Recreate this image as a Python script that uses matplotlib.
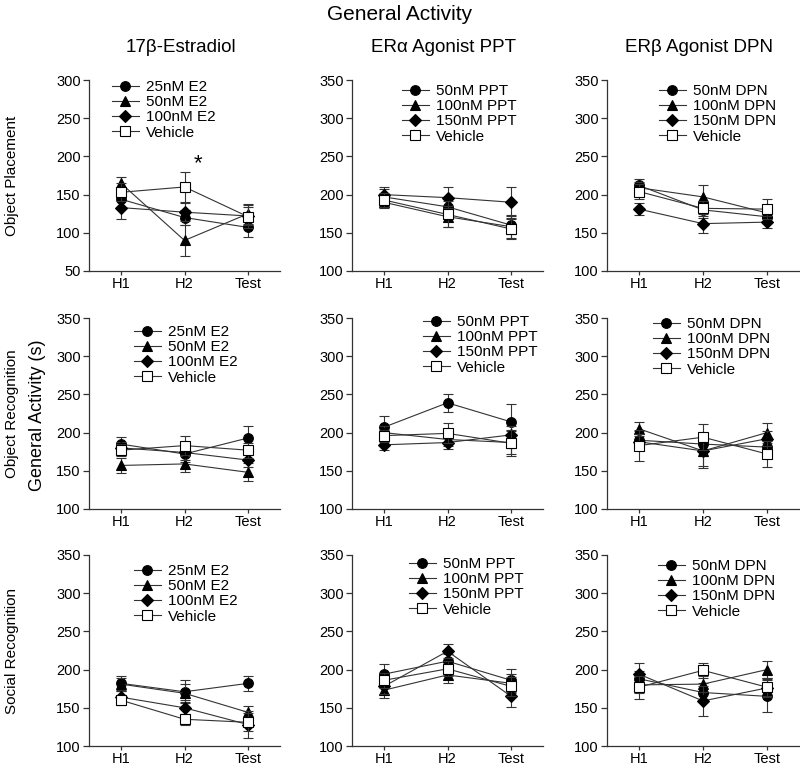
import matplotlib
matplotlib.use("Agg")
import matplotlib.pyplot as plt
import numpy as np

plt.rcParams['font.family'] = ['Liberation Sans', 'DejaVu Sans']

timepoints = ['H1', 'H2', 'Test']
col_titles = ['17\u03b2-Estradiol', 'ER\u03b1 Agonist PPT', 'ER\u03b2 Agonist DPN']
row_titles = ['Object Placement', 'Object Recognition', 'Social Recognition']
e2_labels = ['25nM E2', '50nM E2', '100nM E2', 'Vehicle']
ppt_labels = ['50nM PPT', '100nM PPT', '150nM PPT', 'Vehicle']
dpn_labels = ['50nM DPN', '100nM DPN', '150nM DPN', 'Vehicle']

# series order: dose1 (circle), dose2 (triangle), dose3 (diamond), vehicle (square)
op_e2_mean = [[144, 120, 107], [165, 90, 125], [133, 127, 122], [153, 160, 121]]
op_e2_err = [[10, 10, 12], [8, 20, 13], [15, 12, 12], [12, 20, 15]]
op_ppt_mean = [[197, 184, 160], [190, 171, 158], [200, 196, 190], [193, 174, 155]]
op_ppt_err = [[10, 12, 12], [8, 14, 15], [10, 14, 20], [9, 17, 13]]
op_dpn_mean = [[212, 180, 171], [209, 197, 176], [181, 162, 164], [204, 182, 181]]
op_dpn_err = [[8, 10, 8], [8, 15, 10], [8, 12, 8], [10, 10, 13]]

or_e2_mean = [[185, 172, 193], [157, 159, 148], [180, 174, 164], [177, 183, 177]]
or_e2_err = [[9, 10, 15], [10, 10, 12], [8, 10, 9], [8, 12, 10]]
or_ppt_mean = [[207, 239, 214], [200, 191, 187], [184, 187, 197], [196, 199, 186]]
or_ppt_err = [[15, 12, 23], [8, 8, 15], [7, 8, 12], [8, 13, 17]]
or_dpn_mean = [[190, 185, 181], [205, 176, 200], [188, 176, 192], [183, 194, 172]]
or_dpn_err = [[12, 15, 12], [9, 20, 13], [10, 22, 10], [20, 17, 17]]

sr_e2_mean = [[182, 171, 182], [181, 169, 144], [164, 150, 128], [160, 135, 131]]
sr_e2_err = [[10, 15, 10], [8, 12, 9], [8, 10, 18], [6, 7, 12]]
sr_ppt_mean = [[194, 211, 186], [173, 193, 182], [178, 224, 165], [186, 201, 178]]
sr_ppt_err = [[13, 10, 15], [10, 11, 12], [10, 9, 14], [10, 10, 12]]
sr_dpn_mean = [[188, 170, 165], [180, 181, 200], [194, 159, 176], [177, 199, 177]]
sr_dpn_err = [[10, 12, 21], [10, 10, 11], [15, 20, 12], [15, 10, 12]]

means = [[op_e2_mean, op_ppt_mean, op_dpn_mean],
         [or_e2_mean, or_ppt_mean, or_dpn_mean],
         [sr_e2_mean, sr_ppt_mean, sr_dpn_mean]]
errs = [[op_e2_err, op_ppt_err, op_dpn_err],
        [or_e2_err, or_ppt_err, or_dpn_err],
        [sr_e2_err, sr_ppt_err, sr_dpn_err]]
labels = [e2_labels, ppt_labels, dpn_labels]

W, H = 800, 767
fig = plt.figure(figsize=(W / 100, H / 100), dpi=100)

col_px = [(89, 191), (352, 191), (607, 192)]
row_px = [(80, 271), (318, 509), (555, 746)]
legend_px = [[(112, 80), (402, 84), (659, 84)],
             [(134, 325), (423, 315), (653, 317)],
             [(134, 564), (409, 557), (658, 559)]]

markers = ['o', '^', 'D', 's']
msizes = [7, 7, 6, 6.5]
lc = '#333333'

for r in range(3):
    for c in range(3):
        x0, w = col_px[c]
        top, bot = row_px[r]
        ax = fig.add_axes([x0 / W, 1 - bot / H, w / W, (bot - top) / H])
        x = np.arange(len(timepoints))
        handles = []
        for s in range(4):
            face = 'white' if s == 3 else 'black'
            h = ax.errorbar(x, means[r][c][s], yerr=errs[r][c][s], color=lc, lw=0.8,
                            marker=markers[s], ms=msizes[s], mfc=face, mec='black', mew=0.8,
                            ecolor=lc, elinewidth=0.8, capsize=3.5, capthick=0.8,
                            zorder=3 + s)
            handles.append(h[0])
        ax.set_xlim(-0.5, 2.5)
        if r == 0 and c == 0:
            ax.set_ylim(50, 300)
            ax.set_yticks(np.arange(50, 301, 50))
        else:
            ax.set_ylim(100, 350)
            ax.set_yticks(np.arange(100, 351, 50))
        ax.set_xticks(x)
        ax.set_xticklabels(timepoints)
        for side in ['top', 'right']:
            ax.spines[side].set_visible(False)
        for side in ['left', 'bottom']:
            ax.spines[side].set_color(lc)
            ax.spines[side].set_linewidth(0.9)
        ax.tick_params(axis='y', direction='out', length=4, width=0.9, color=lc, labelsize=10.5, pad=2)
        ax.tick_params(axis='x', direction='out', length=3, width=0.9, color=lc, labelsize=10.5, pad=1.5)
        lx, ly = legend_px[r][c]
        ax.legend(handles, labels[c], loc='upper left', bbox_to_anchor=(lx / W, 1 - ly / H),
                  bbox_transform=fig.transFigure, frameon=False, fontsize=11,
                  borderpad=0, borderaxespad=0, handlelength=1.75, handletextpad=0.45,
                  labelspacing=0.08)
        if r == 0 and c == 0:
            ax.text(1.22, 191, '*', ha='center', va='center', fontsize=16)
        if r == 0:
            fig.text((x0 + w / 2 - 4) / W, 1 - 47 / H, col_titles[c], ha='center', va='center', fontsize=13.5)
        if c == 0:
            fig.text(12 / W, 1 - ((top + bot) / 2) / H, row_titles[r], rotation=90,
                     ha='center', va='center', fontsize=11)

fig.text(400 / W, 1 - 15 / H, 'General Activity', ha='center', va='center', fontsize=15)
fig.text(38 / W, 1 - 415 / H, 'General Activity (s)', rotation=90, ha='center', va='center', fontsize=13)

fig.savefig('out.png', dpi=100)
